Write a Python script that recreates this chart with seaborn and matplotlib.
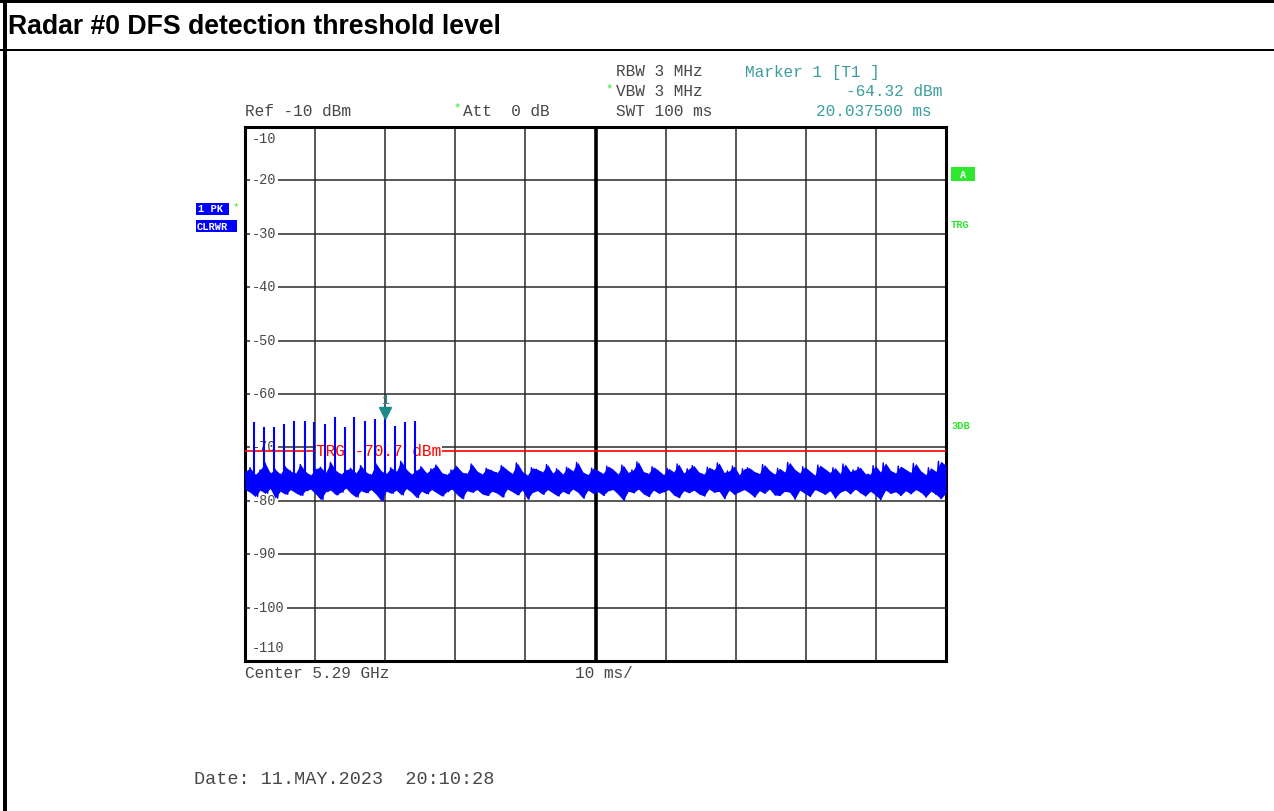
import numpy as np
import matplotlib
matplotlib.use("Agg")
import matplotlib.pyplot as plt
import matplotlib.transforms as mtransforms
from matplotlib.patches import Rectangle
import seaborn as sns

# ---------------- data ----------------
title = "Radar #0 DFS detection threshold level"
sweep_ms = 100
y_grid = [-20, -30, -40, -50, -60, -70, -80, -90, -100]
y_edge_labels = [(-10, -12.2), (-110, -107.6)]

noise_hi = [
    -74.6, -73.8, -75.1, -74.2, -72.9, -74.8, -74.1, -75.0, -73.6, -74.4,
    -74.9, -73.2, -74.5, -75.2, -74.0, -73.7, -74.7, -72.8, -74.3, -75.0,
    -74.2, -73.9, -74.8, -73.4, -74.6, -75.1, -73.0, -74.4, -74.9, -73.8,
    -74.5, -72.6, -74.1, -75.0, -74.3, -73.6, -74.8, -74.0, -73.3, -74.7,
    -75.1, -74.2, -73.5, -74.6, -74.9, -73.1, -74.4, -75.0, -73.9, -74.3,
    -74.7, -73.4, -74.2, -74.9, -72.9, -74.5, -75.2, -73.8, -74.1, -74.6,
    -73.2, -74.8, -74.0, -75.0, -73.7, -74.4, -72.8, -74.6, -75.1, -73.9,
    -74.3, -74.9, -73.5, -74.1, -75.0, -73.3, -74.7, -74.2, -72.7, -74.5,
    -74.9, -73.6, -74.3, -75.1, -73.9, -74.6, -73.1, -74.8, -74.0, -73.4,
    -74.6, -75.0, -73.7, -74.2, -72.9, -74.7, -74.4, -73.5, -75.1, -74.0,
    -73.8, -74.5, -74.9, -73.2, -74.3, -75.0, -73.9, -74.6, -72.8, -74.1,
    -74.8, -73.6, -74.4, -75.2, -73.3, -74.0, -74.7, -73.8, -74.9, -73.1,
    -74.5, -74.2, -73.7, -74.9, -75.0, -73.4, -74.6, -72.9, -74.3, -74.8,
    -73.5, -74.1, -74.7, -73.0, -74.4, -75.1, -73.8, -74.5, -72.6, -73.4,
]
noise_lo = [
    -77.9, -78.4, -79.2, -78.0, -78.6, -77.7, -79.5, -78.2, -78.8, -77.9,
    -78.5, -79.0, -78.1, -77.8, -78.7, -79.8, -78.3, -78.0, -78.9, -78.4,
    -77.6, -78.6, -79.3, -78.1, -78.5, -77.9, -78.8, -80.0, -78.2, -78.6,
    -78.0, -78.9, -77.7, -78.4, -79.4, -78.2, -78.7, -77.9, -78.5, -79.1,
    -78.3, -77.8, -78.8, -79.6, -78.1, -78.4, -77.9, -78.7, -79.0, -78.2,
    -78.6, -79.3, -77.8, -78.3, -78.9, -78.0, -79.7, -78.4, -78.1, -78.8,
    -77.9, -78.5, -79.1, -78.2, -78.7, -77.8, -78.4, -79.5, -78.0, -78.6,
    -78.3, -79.0, -78.1, -77.9, -78.8, -79.9, -78.2, -78.5, -77.8, -78.7,
    -79.2, -78.0, -78.6, -78.3, -77.9, -78.9, -79.4, -78.1, -78.5, -78.0,
    -78.7, -79.1, -77.8, -78.4, -78.2, -79.6, -78.0, -78.8, -78.3, -77.9,
    -78.5, -79.3, -78.1, -78.6, -77.8, -78.9, -79.0, -78.2, -78.4, -79.7,
    -78.0, -78.6, -79.2, -77.9, -78.3, -78.8, -78.1, -79.5, -78.4, -78.0,
    -78.7, -77.8, -78.5, -79.1, -78.2, -78.9, -79.8, -78.0, -78.6, -78.3,
    -79.0, -78.1, -78.7, -77.9, -78.4, -79.3, -78.2, -78.8, -79.6, -78.5,
]
pulse_t = [1.35, 2.78, 4.2, 5.6, 7.03, 8.5, 9.9, 11.35, 12.8, 14.2,
           15.62, 17.05, 18.5, 20.04, 21.45, 22.8, 24.2]
pulse_peak = [-65.2, -66.2, -66.2, -65.7, -65.0, -65.0, -65.3, -65.7, -64.4,
              -66.2, -64.4, -65.0, -64.7, -64.32, -66.0, -65.2, -65.0]
pulse_base = -77.5
marker_t = 20.0375
marker_level = -64.32
trg_level = -70.7

# ---------------- style ----------------
sns.set_style("white")
MONO = ["Liberation Mono", "DejaVu Sans Mono"]
plt.rcParams["font.family"] = ["Liberation Sans", "DejaVu Sans"]
GRAY = "#474747"
TEAL = "#3a9e9e"
GREEN = "#2ee82e"
BLUE = "#0000ff"
FS = 11.6
FS_TICK = 9.8

W, H = 1274, 811
fig = plt.figure(figsize=(W / 100, H / 100), dpi=100)
fig.patch.set_facecolor("white")


def fx(x):
    return x / W


def fy(y):
    return 1 - y / H


def ftext(x, y, s, **kw):
    kw.setdefault("va", "center")
    return fig.text(fx(x), fy(y), s, **kw)


def frect(x0, y0, x1, y1, color):
    fig.patches.append(Rectangle((fx(x0), fy(y1)), (x1 - x0) / W, (y1 - y0) / H,
                                 transform=fig.transFigure, facecolor=color,
                                 edgecolor="none", zorder=5))


# page frame
frect(0, 0, W, 3, "black")
frect(3, 0, 7, H, "black")
frect(0, 49, W, 51, "black")
ftext(8, 27, title, fontsize=19.2, fontweight="bold", color="black",
      family=["Liberation Sans", "DejaVu Sans"])

# ---------------- axes ----------------
ax = fig.add_axes([fx(245), fy(661), 701 / W, 534 / H])
ax.set_xlim(0, sweep_ms)
ax.set_ylim(-110, -10)
ax.set_xticks(np.arange(0, sweep_ms + 1, 10))
ax.set_yticks(y_grid)
ax.tick_params(length=0, labelleft=False, labelbottom=False)
ax.set_axisbelow(True)
ax.grid(True, color="#2a2a2a", lw=1.1)
for sp in ax.spines.values():
    sp.set_color("black")
    sp.set_linewidth(2.2)
ax.axvline(sweep_ms / 2, color="black", lw=2.6, zorder=1)

# y labels inside the frame
lab_tr = ax.get_yaxis_transform()
for v in y_grid:
    ax.text(7 / 701, v, f"-{abs(v)}", transform=lab_tr, ha="left", va="center",
            fontsize=FS_TICK, family=MONO, color=GRAY, zorder=2.5,
            bbox=dict(facecolor="white", edgecolor="none", pad=1.5))
for v, ypos in y_edge_labels:
    ax.text(7 / 701, ypos, f"-{abs(v)}", transform=lab_tr, ha="left", va="center",
            fontsize=FS_TICK, family=MONO, color=GRAY, zorder=2.5)

# trace: min/max envelope of the peak detector, drawn as a filled band plus the trace
n = len(noise_hi)
t_env = np.linspace(0, sweep_ms, n)
ax.fill_between(t_env, noise_lo, noise_hi, color=BLUE, lw=0, zorder=3)
t = np.linspace(0, sweep_ms, 2 * n)
vals = np.empty(2 * n)
vals[0::2] = noise_hi
vals[1::2] = noise_lo
sns.lineplot(x=t, y=vals, estimator=None, sort=False, color=BLUE, lw=1.0,
             ax=ax, zorder=3, legend=False)
ax.vlines(pulse_t, pulse_base, pulse_peak, color=BLUE, lw=1.5, zorder=5)

# trigger line
ax.axhline(trg_level, color="red", lw=1.2, zorder=3.5)
ax.text(10.15, trg_level, f"TRG {trg_level} dBm", color="red", fontsize=FS,
        family=MONO, ha="left", va="center", zorder=4,
        bbox=dict(facecolor="white", edgecolor="none", pad=0.3))

# marker
mk_tr = mtransforms.offset_copy(ax.transData, fig=fig, y=4.5, units="dots")
ax.plot([marker_t], [marker_level], marker="v", markersize=9, color="#1a8a8a",
        transform=mk_tr, zorder=6, clip_on=False)
mk_tr2 = mtransforms.offset_copy(ax.transData, fig=fig, y=10, units="dots")
ax.text(marker_t, marker_level, "1", transform=mk_tr2, color="#1a8a8a",
        fontsize=9.5, family=MONO, ha="center", va="bottom", zorder=6)
ax.set_xlabel("")
ax.set_ylabel("")

# ---------------- header texts ----------------
ftext(616, 72, "RBW 3 MHz", fontsize=FS, family=MONO, color=GRAY)
ftext(616, 92, "VBW 3 MHz", fontsize=FS, family=MONO, color=GRAY)
ftext(616, 111, "SWT 100 ms", fontsize=FS, family=MONO, color=GRAY)
ftext(245, 111, "Ref -10 dBm", fontsize=FS, family=MONO, color=GRAY)
ftext(463, 111, "Att  0 dB", fontsize=FS, family=MONO, color=GRAY)
ftext(605, 89, "*", fontsize=9, family=MONO, color=GREEN)
ftext(453, 108, "*", fontsize=9, family=MONO, color=GREEN)
ftext(745, 72, "Marker 1 [T1 ]", fontsize=FS, family=MONO, color=TEAL)
ftext(942, 92, f"{marker_level} dBm", fontsize=FS, family=MONO, color=TEAL, ha="right")
ftext(931, 111, f"{marker_t:.6f} ms", fontsize=FS, family=MONO, color=TEAL, ha="right")

# left trace boxes
frect(196, 203, 229, 215, BLUE)
ftext(198, 209.5, "1 PK", fontsize=7.5, family=MONO, fontweight="bold", color="white", zorder=6)
ftext(233, 207, "*", fontsize=8, family=MONO, color=GREEN)
frect(196, 220, 237, 232, BLUE)
ftext(197, 226.5, "CLRWR", fontsize=7.5, family=MONO, fontweight="bold", color="white", zorder=6)

# right side indicators
frect(951, 167, 975, 181, GREEN)
ftext(963, 174.5, "A", fontsize=7.5, family=MONO, fontweight="bold", color="white",
      ha="center", zorder=6)
ftext(951, 224.5, "TRG", fontsize=7.5, family=MONO, fontweight="bold", color=GREEN)
ftext(951, 426.5, "3DB", fontsize=7.5, family=MONO, fontweight="bold", color=GREEN)

# footer
ftext(245, 674, "Center 5.29 GHz", fontsize=FS, family=MONO, color=GRAY)
ftext(575, 674, "10 ms/", fontsize=FS, family=MONO, color=GRAY)
ftext(194, 780, "Date: 11.MAY.2023  20:10:28", fontsize=13.3, family=MONO, color=GRAY)

fig.savefig("out.png", dpi=100, facecolor="white")
